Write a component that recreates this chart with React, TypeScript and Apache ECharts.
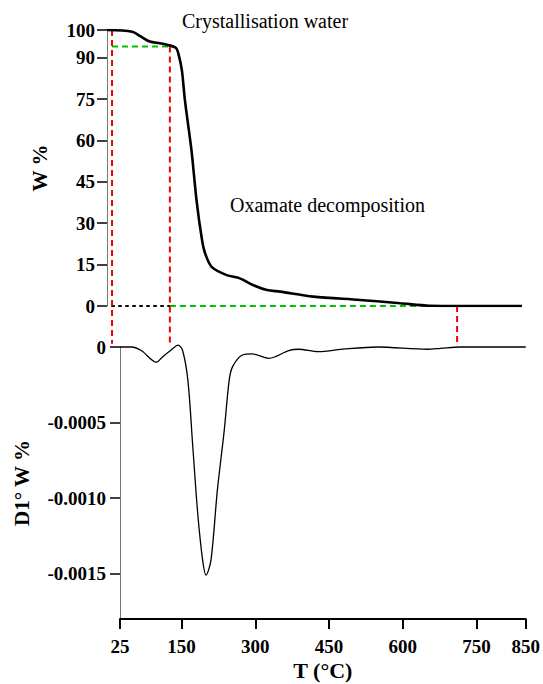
import React, { useEffect, useRef } from 'react';
import * as echarts from 'echarts';

// TGA curve (weight %) vs temperature
const tgaTemp = [25, 75, 91, 110, 130, 146, 162, 168, 174, 180, 193, 203, 214, 220, 233, 263, 289, 315, 343, 369, 435, 528, 608, 667, 727, 850];
const tgaWeight = [100, 99.4, 97.8, 95.8, 95.2, 94.6, 93.5, 90.6, 85.2, 74.4, 56.3, 38.3, 23.8, 19.1, 14.2, 11.2, 10.0, 7.6, 5.8, 5.2, 3.4, 2.2, 1.0, 0.1, 0, 0];

// DTG curve (first derivative) vs temperature
const dtgTemp = [25, 49, 69, 99, 112, 129, 143, 152, 163, 173, 183, 193, 200, 210, 223, 237, 247, 254, 274, 294, 328, 368, 388, 428, 482, 549, 650, 677, 717, 850];
const dtgValue = [0, 0, -0.000025, -0.000101, -0.000064, -0.00002, 0.000013, -0.00002, -0.000219, -0.00066, -0.0011, -0.00141, -0.00151, -0.00141, -0.000947, -0.00055, -0.000219, -0.00013, -0.000053, -0.000046, -0.000075, -0.0000245, -0.000015, -0.000031, -0.000013, 0, -0.000015, -0.000009, 0, 0];

const xTicks = [25, 150, 300, 450, 600, 750, 850];
const wTicks = [0, 15, 30, 45, 60, 75, 90, 100];
const dTicks = [0, -0.0005, -0.001, -0.0015];

// annotation guide values
const stepStart = 35;
const stepEnd = 150;
const endTemp = 721;
const plateau = 94;
const guideBottom = -13.7;

const FONT = 'Liberation Serif';

export default function App() {
  const ref = useRef<HTMLDivElement>(null);
  useEffect(() => {
    if (!ref.current) return;
    const chart = echarts.init(ref.current, null, { renderer: 'svg' });
    const zip = (a: number[], b: number[]) => a.map((v, i) => [v, b[i]]);
    const red = { color: '#f00000', width: 2, type: [6, 4] as any };
    const green = { color: '#00c000', width: 2, type: [6, 4] as any };
    const guide = (data: number[][], ls: any, z = 3) => ({
      type: 'line', xAxisIndex: 0, yAxisIndex: 0, data, symbol: 'none', clip: false,
      lineStyle: ls, z, silent: true,
    });
    const tickLabel = { fontFamily: FONT, fontSize: 19, fontWeight: 'bold', color: '#000' };
    const nameStyle = { fontFamily: FONT, fontSize: 21, fontWeight: 'bold', color: '#000' };
    chart.setOption({
      animation: false,
      backgroundColor: '#ffffff',
      textStyle: { fontFamily: FONT },
      grid: [
        { left: 107, top: 30, width: 415, height: 276 },
        { left: 120, top: 347, width: 409, height: 272 },
      ],
      xAxis: [
        { gridIndex: 0, type: 'value', min: 25, max: 850, show: false },
        {
          gridIndex: 1, type: 'value', min: 25, max: 850,
          axisLine: { onZero: false, lineStyle: { color: '#000', width: 2 } },
          axisTick: { length: 10, customValues: xTicks, lineStyle: { color: '#000', width: 2 } },
          axisLabel: { customValues: xTicks, margin: 18, ...tickLabel },
          splitLine: { show: false },
          name: 'T (°C)', nameLocation: 'middle', nameGap: 40,
          nameTextStyle: { ...nameStyle, fontSize: 22 },
        },
      ],
      yAxis: [
        {
          gridIndex: 0, type: 'value', min: 0, max: 100,
          axisLine: { show: true, onZero: false, lineStyle: { color: '#777', width: 1 } },
          axisTick: { show: true, length: 10, customValues: wTicks, lineStyle: { color: '#000', width: 1.5 } },
          axisLabel: { customValues: wTicks, margin: 12, ...tickLabel },
          splitLine: { show: false },
          name: 'W %', nameLocation: 'middle', nameGap: 57, nameTextStyle: nameStyle,
        },
        {
          gridIndex: 1, type: 'value', min: -0.0018, max: 0,
          axisLine: { show: true, onZero: false, lineStyle: { color: '#777', width: 1 } },
          axisTick: { show: true, length: 10, customValues: dTicks, lineStyle: { color: '#000', width: 1.5 } },
          axisLabel: {
            customValues: dTicks, margin: 14, ...tickLabel,
            formatter: (v: number) => (v === 0 ? '0' : v.toFixed(4)),
          },
          splitLine: { show: false },
          name: 'D1° W %', nameLocation: 'middle', nameGap: 88, nameTextStyle: nameStyle,
        },
      ],
      series: [
        guide([[stepStart, 0], [stepEnd, 0]], { color: '#000', width: 2, type: [2, 5] as any, cap: 'round' }),
        guide([[stepEnd, 0], [endTemp, 0]], green),
        guide([[stepStart, plateau], [stepEnd, plateau]], green),
        guide([[stepStart, 100], [stepStart, guideBottom]], red),
        guide([[stepEnd, plateau], [stepEnd, guideBottom]], red),
        guide([[endTemp, 0], [endTemp, guideBottom]], red),
        {
          type: 'line', xAxisIndex: 0, yAxisIndex: 0, data: zip(tgaTemp, tgaWeight),
          symbol: 'none', smooth: 0.3,
          lineStyle: { color: '#000', width: 2.6 }, z: 5,
        },
        {
          type: 'line', xAxisIndex: 1, yAxisIndex: 1, data: zip(dtgTemp, dtgValue),
          symbol: 'none', smooth: 0.3, clip: false,
          lineStyle: { color: '#000', width: 1.3 }, z: 5,
        },
      ],
      graphic: [
        {
          type: 'text', left: 182, top: 11,
          style: { text: 'Crystallisation water', fontFamily: FONT, fontSize: 20, fill: '#000' },
        },
        {
          type: 'text', left: 230, top: 195,
          style: { text: 'Oxamate decomposition', fontFamily: FONT, fontSize: 20, fill: '#000' },
        },
      ],
    });
    return () => chart.dispose();
  }, []);
  return (
    <div
      ref={ref}
      style={{ position: 'absolute', left: 0, top: 0, width: 543, height: 684, background: '#fff' }}
    />
  );
}
